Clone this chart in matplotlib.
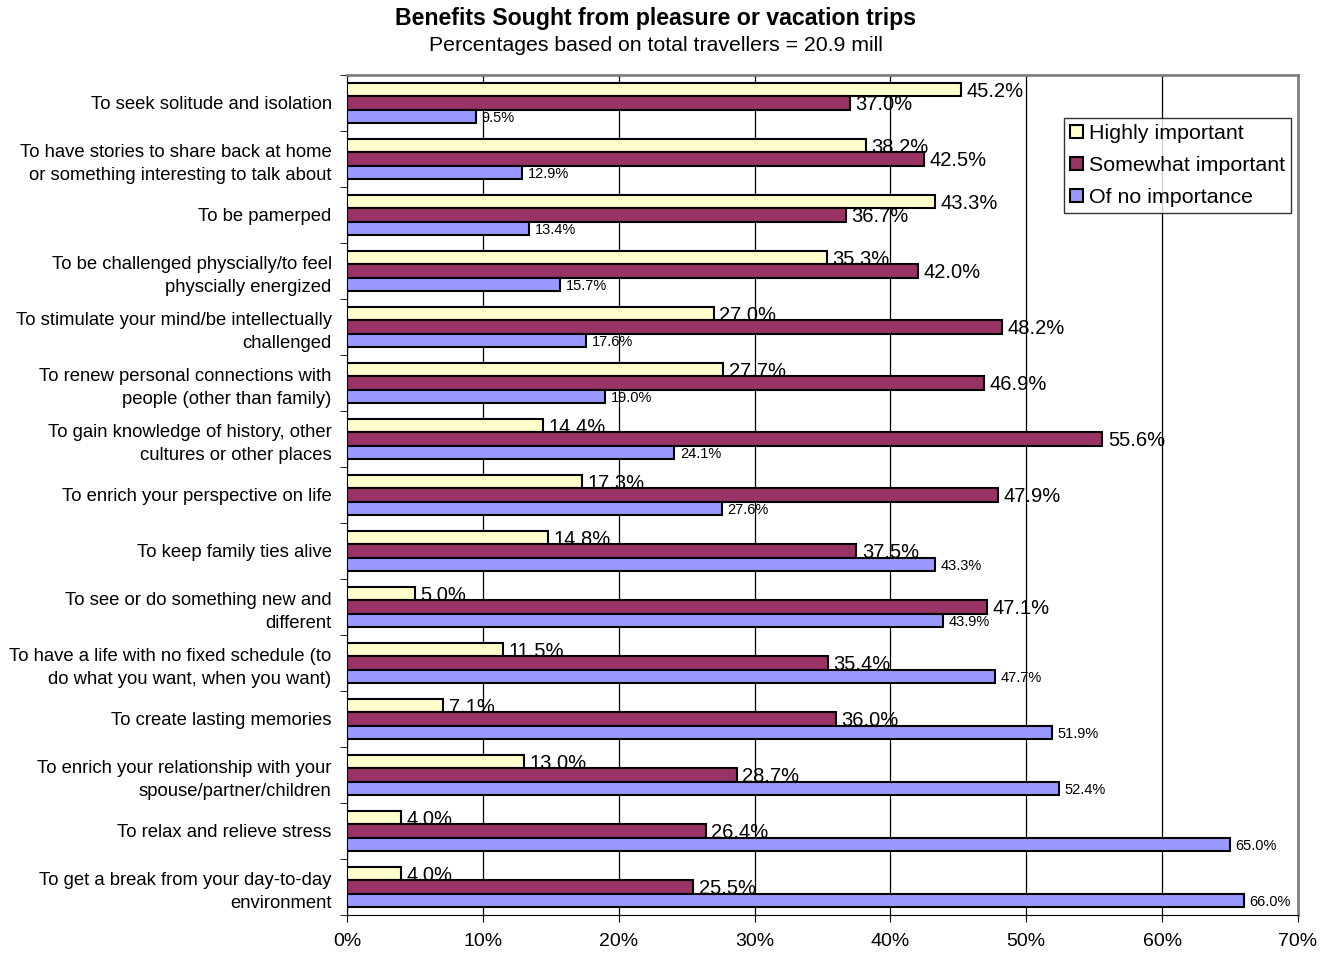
import matplotlib
matplotlib.use("Agg")
import matplotlib.pyplot as plt
import numpy as np

plt.rcParams['font.family'] = ['Liberation Sans', 'DejaVu Sans']

categories = [
    "To seek solitude and isolation",
    "To have stories to share back at home\nor something interesting to talk about",
    "To be pamerped",
    "To be challenged physcially/to feel\nphyscially energized",
    "To stimulate your mind/be intellectually\nchallenged",
    "To renew personal connections with\npeople (other than family)",
    "To gain knowledge of history, other\ncultures or other places",
    "To enrich your perspective on life",
    "To keep family ties alive",
    "To see or do something new and\ndifferent",
    "To have a life with no fixed schedule (to\ndo what you want, when you want)",
    "To create lasting memories",
    "To enrich your relationship with your\nspouse/partner/children",
    "To relax and relieve stress",
    "To get a break from your day-to-day\nenvironment",
]
highly = [45.2, 38.2, 43.3, 35.3, 27.0, 27.7, 14.4, 17.3, 14.8, 5.0, 11.5, 7.1, 13.0, 4.0, 4.0]
somewhat = [37.0, 42.5, 36.7, 42.0, 48.2, 46.9, 55.6, 47.9, 37.5, 47.1, 35.4, 36.0, 28.7, 26.4, 25.5]
none_imp = [9.5, 12.9, 13.4, 15.7, 17.6, 19.0, 24.1, 27.6, 43.3, 43.9, 47.7, 51.9, 52.4, 65.0, 66.0]
series_names = ["Highly important", "Somewhat important", "Of no importance"]
colors = ["#FFFFCC", "#993366", "#9999FF"]
xticks = [0, 10, 20, 30, 40, 50, 60, 70]

fig = plt.figure(figsize=(13.28, 9.6), dpi=100)
ax = fig.add_axes([0.2613, 0.0469, 0.7161, 0.875])

n = len(categories)
y = np.arange(n)
h = 0.235
series = [highly, somewhat, none_imp]
offsets = [-h, 0, h]
lab_sizes = [14.5, 14.5, 10.5]
for vals, off, col, name, fs in zip(series, offsets, colors, series_names, lab_sizes):
    ax.barh(y + off, vals, height=h, color=col, edgecolor='black', linewidth=1.5, label=name, zorder=3)
    for yi, v in zip(y, vals):
        ax.text(v + 0.4, yi + off + 0.03, f"{v:.1f}%", va='center', ha='left', fontsize=fs, zorder=4)

ax.set_xlim(0, 70)
ax.set_ylim(n - 0.5, -0.5)
ax.set_xticks(xticks)
ax.set_xticklabels([f"{t}%" for t in xticks], fontsize=14)
ax.set_yticks(y)
ax.set_yticklabels(categories, fontsize=13.3, linespacing=1.45)
ax.tick_params(axis='y', length=0, pad=11)
ax.set_yticks(np.arange(n + 1) - 0.5, minor=True)
ax.tick_params(axis='y', which='minor', length=5, direction='out', color='black')
ax.tick_params(axis='x', length=5, direction='out', pad=8)
ax.xaxis.grid(True, color='black', linewidth=0.9, zorder=0)
ax.set_axisbelow(True)
for s in ['top', 'right']:
    ax.spines[s].set_color('#808080')
    ax.spines[s].set_linewidth(2)
ax.spines['left'].set_color('black')
ax.spines['bottom'].set_color('black')

leg = ax.legend(loc='upper left', bbox_to_anchor=(0.754, 0.949), fontsize=15.4, frameon=True,
                fancybox=False, edgecolor='black', handlelength=0.6, handleheight=0.6,
                handletextpad=0.25, borderpad=0.3, labelspacing=0.6, borderaxespad=0)
leg.get_frame().set_linewidth(1.0)

fig.text(0.494, 0.981, "Benefits Sought from pleasure or vacation trips", ha='center', va='center',
         fontsize=16.7, fontweight='bold')
fig.text(0.494, 0.953, "Percentages based on total travellers = 20.9 mill", ha='center', va='center',
         fontsize=15.3)

fig.savefig("out.png", dpi=100)
